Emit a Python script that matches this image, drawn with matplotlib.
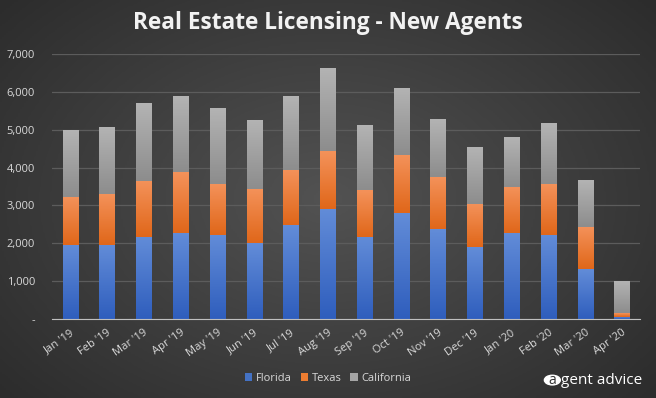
import numpy as np
import matplotlib
matplotlib.use('Agg')
import matplotlib.pyplot as plt
from matplotlib.patches import Circle

months = ["Jan '19", "Feb '19", "Mar '19", "Apr '19", "May '19", "Jun '19",
          "Jul '19", "Aug '19", "Sep '19", "Oct '19", "Nov '19", "Dec '19",
          "Jan '20", "Feb '20", "Mar '20", "Apr '20"]
florida = [1960, 1960, 2175, 2280, 2225, 2000, 2475, 2915, 2175, 2790, 2370, 1895, 2260, 2225, 1310, 60]
texas = [1270, 1350, 1480, 1610, 1350, 1440, 1470, 1530, 1240, 1550, 1390, 1150, 1235, 1350, 1125, 105]
california = [1770, 1745, 2035, 2005, 2005, 1820, 1955, 2190, 1715, 1770, 1530, 1480, 1295, 1610, 1240, 820]

plt.rcParams['font.family'] = ['Open Sans', 'DejaVu Sans']

fig = plt.figure(figsize=(6.56, 3.98), dpi=100)

# radial background
bg = fig.add_axes([0, 0, 1, 1])
yy, xx = np.mgrid[-1:1:200j, -1:1:330j]
r = np.sqrt((xx * 0.9) ** 2 + (yy * 0.8) ** 2)
bg.imshow(np.clip(1 - r / 1.3, 0, 1), cmap=matplotlib.colors.LinearSegmentedColormap.from_list(
    'bg', ['#2c2c2c', '#525252']), aspect='auto', extent=[0, 1, 0, 1])
bg.axis('off')

ax = fig.add_axes([0.079, 0.1985, 0.897, 0.6655])
ax.patch.set_alpha(0)

x = np.arange(len(months))
w = 0.41
series = [
    ('Florida', florida, np.zeros(len(x)), '#4472C4', '#628cd8', '#2f5ebd'),
    ('Texas', texas, np.array(florida), '#ED7D31', '#f4925a', '#e0671a'),
    ('California', california, np.array(florida) + np.array(texas), '#A5A5A5', '#b3b3b3', '#8d8d8d'),
]
for name, vals, base, c, top, bot in series:
    bars = ax.bar(x, vals, w, bottom=base, color=c, label=name, zorder=2)
    cmap = matplotlib.colors.LinearSegmentedColormap.from_list(name, [bot, top])
    grad = np.linspace(0, 1, 64).reshape(-1, 1)
    for b in bars:
        bx, by = b.get_x(), b.get_y()
        ax.imshow(grad, cmap=cmap, aspect='auto', origin='lower', zorder=2.5,
                  extent=[bx, bx + b.get_width(), by, by + b.get_height()])

ax.set_xlim(-0.5, len(x) - 0.5)
ax.set_ylim(0, 7000)
ax.set_yticks(range(0, 7001, 1000))
ax.set_yticklabels(['-'] + [f'{v:,}' for v in range(1000, 7001, 1000)])
ax.set_xticks(x)
ax.set_xticklabels(months, rotation=35, ha='right', rotation_mode='anchor')
ax.grid(axis='y', color='#5c5c5c', lw=0.9, zorder=0)
ax.tick_params(colors='#d9d9d9', labelsize=8, length=0)
ax.tick_params(axis='x', pad=6)
ax.tick_params(axis='y', pad=12)
for s in ['top', 'right', 'left']:
    ax.spines[s].set_visible(False)
ax.spines['bottom'].set_color('#bfbfbf')

fig.text(0.5, 0.942, 'Real Estate Licensing - New Agents', ha='center', va='center',
         color='#f2f2f2', fontsize=16.3, fontweight='bold')

leg = fig.legend(loc='center', bbox_to_anchor=(0.5, 0.05), ncol=3, frameon=False,
                 fontsize=8, handlelength=0.7, handleheight=0.7, handletextpad=0.3,
                 columnspacing=0.8)
for t in leg.get_texts():
    t.set_color('#d9d9d9')

# logo
fig.patches.append(Circle((0.842, 0.045), 0.0125 * 398 / 656 * 1.6, transform=fig.transFigure,
                          color='white', zorder=5))
fig.text(0.842, 0.043, 'a', ha='center', va='center', color='#333333', fontsize=10, zorder=6)
fig.text(0.855, 0.045, 'gent advice', ha='left', va='center', color='white', fontsize=11)

fig.savefig('out.png', dpi=100)
